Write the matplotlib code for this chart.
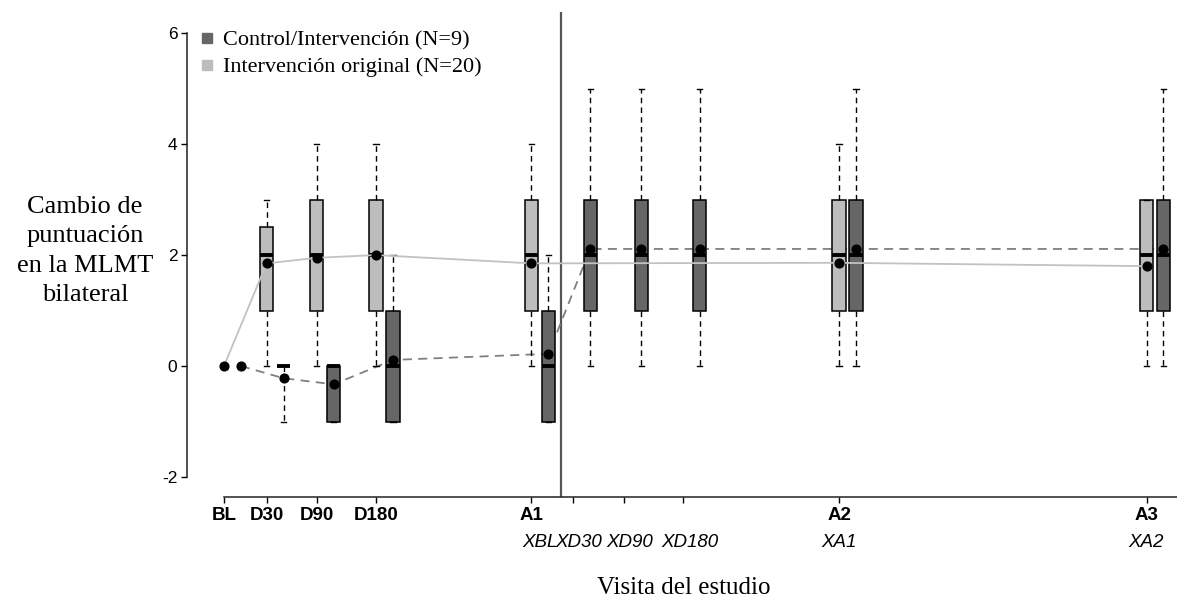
import matplotlib
matplotlib.use("Agg")
import matplotlib.pyplot as plt
from matplotlib.lines import Line2D

# ---------------- data ----------------
tick_labels_top = ["BL", "D30", "D90", "D180", "A1", "", "", "", "A2", "A3"]
tick_pos = [0.0, 1.666, 3.617, 5.93, 12.0, 13.63, 15.62, 17.9, 24.0, 36.0]
italic_labels = ["XBL", "XD30", "XD90", "XD180", "XA1", "XA2"]
italic_pos = [12.33, 13.85, 15.84, 18.17, 24.0, 36.0]

# Intervención original (N=20): BL, D30, D90, D180, A1, A2, A3
light_pos = [0.0, 1.666, 3.617, 5.93, 12.0, 24.0, 36.0]
light_q1 = [0, 1, 1, 1, 1, 1, 1]
light_med = [0, 2, 2, 2, 2, 2, 2]
light_q3 = [0, 2.5, 3, 3, 3, 3, 3]
light_lo = [0, 0, 0, 0, 0, 0, 0]
light_hi = [0, 3, 4, 4, 4, 4, 3]
light_mean = [0, 1.85, 1.95, 2.0, 1.85, 1.86, 1.80]

# Control/Intervención (N=9): BL, D30, D90, D180, A1/XBL, XD30, XD90, XD180, A2/XA1, A3/XA2
dark_offset = 0.663
dark_base = [0.0, 1.666, 3.617, 5.93, 12.0, 13.63, 15.62, 17.9, 24.0, 36.0]
dark_q1 = [0, 0, -1, -1, -1, 1, 1, 1, 1, 1]
dark_med = [0, 0, 0, 0, 0, 2, 2, 2, 2, 2]
dark_q3 = [0, 0, 0, 1, 1, 3, 3, 3, 3, 3]
dark_lo = [0, -1, -1, -1, -1, 0, 0, 0, 0, 0]
dark_hi = [0, 0, 0, 2, 2, 5, 5, 5, 5, 5]
dark_mean = [0, -0.22, -0.33, 0.11, 0.22, 2.11, 2.11, 2.11, 2.11, 2.11]

crossover_x = 13.14

legend_labels = ["Control/Intervención (N=9)", "Intervención original (N=20)"]

# ---------------- style ----------------
LIGHT = "#bdbdbd"
DARK = "#666666"
SANS = "Liberation Sans"
SERIF = "Liberation Serif"

fig = plt.figure(figsize=(11.77, 5.99), dpi=100)
ax = fig.add_axes([187 / 1177, 102 / 599, 990 / 1177, 485 / 599])
ax.set_xlim(-1.443, 37.19)
ax.set_ylim(-2.36, 6.38)


def draw_boxes(pos, q1, med, q3, lo, hi, color):
    stats, ps = [], []
    for p, a, m, b, l, h in zip(pos, q1, med, q3, lo, hi):
        if h > l:
            stats.append(dict(q1=a, med=m, q3=b, whislo=l, whishi=h, fliers=[]))
            ps.append(p)
    ax.bxp(stats, positions=ps, widths=0.52, capwidths=0.21, patch_artist=True,
           showfliers=False, manage_ticks=False, zorder=2,
           boxprops=dict(facecolor=color, edgecolor="black", linewidth=1.1),
           medianprops=dict(color="black", linewidth=2.8, solid_capstyle="butt"),
           whiskerprops=dict(color="black", linewidth=1.0, linestyle=(0, (4, 3))),
           capprops=dict(color="black", linewidth=1.0))


draw_boxes(light_pos, light_q1, light_med, light_q3, light_lo, light_hi, LIGHT)
dark_pos = [b + dark_offset for b in dark_base]
draw_boxes(dark_pos, dark_q1, dark_med, dark_q3, dark_lo, dark_hi, DARK)

# mean lines
ax.plot(dark_pos, dark_mean, color="#808080", linewidth=1.3, linestyle=(0, (5, 3.5)), zorder=1.5)
ax.plot(light_pos, light_mean, color="#c2c2c2", linewidth=1.3, zorder=3)
# mean points
ax.plot(light_pos, light_mean, "o", color="black", markersize=6.3, zorder=4)
ax.plot(dark_pos, dark_mean, "o", color="black", markersize=6.3, zorder=4)

# crossover line
ax.axvline(crossover_x, color="#555555", linewidth=1.6, zorder=1)

# axes styling
for s in ["top", "right"]:
    ax.spines[s].set_visible(False)
ax.spines["left"].set_bounds(-2, 6)
ax.spines["bottom"].set_bounds(0, 37.19)
for s in ["left", "bottom"]:
    ax.spines[s].set_linewidth(1.1)
    ax.spines[s].set_color("#222222")

ax.set_yticks([-2, 0, 2, 4, 6])
ax.set_yticklabels(["-2", "0", "2", "4", "6"], fontfamily=SANS, fontsize=12.5)
ax.tick_params(axis="y", length=4, width=1.0, pad=3)

ax.set_xticks(tick_pos)
ax.set_xticklabels(tick_labels_top, fontfamily=SANS, fontsize=13.5, fontweight="bold")
ax.tick_params(axis="x", length=4, width=1.0, pad=3)

for lab, x in zip(italic_labels, italic_pos):
    ax.annotate(lab, xy=(x, 0), xycoords=ax.get_xaxis_transform(),
                xytext=(0, -33), textcoords="offset points", ha="center", va="center",
                fontfamily=SANS, fontsize=13.5, fontstyle="italic")

# axis titles
fig.text(684 / 1177, 1 - 588 / 599, "Visita del estudio", ha="center", va="center",
         fontfamily=SERIF, fontsize=18)
fig.text(85 / 1177, 1 - 251 / 599, "Cambio de\npuntuación\nen la MLMT\nbilateral",
         ha="center", va="center", multialignment="center", fontfamily=SERIF,
         fontsize=19, linespacing=1.42)

# legend
handles = [Line2D([], [], marker="s", linestyle="none", color=DARK, markersize=6.5),
           Line2D([], [], marker="s", linestyle="none", color=LIGHT, markersize=6.5)]
leg = ax.legend(handles, legend_labels, loc="upper left",
                bbox_to_anchor=(201 / 1177, 1 - 30 / 599), bbox_transform=fig.transFigure,
                frameon=False, handlelength=0.5, handletextpad=0.5, labelspacing=0.28,
                borderpad=0, borderaxespad=0, prop=dict(family=SERIF, size=16))

fig.savefig("out.png", dpi=100)
